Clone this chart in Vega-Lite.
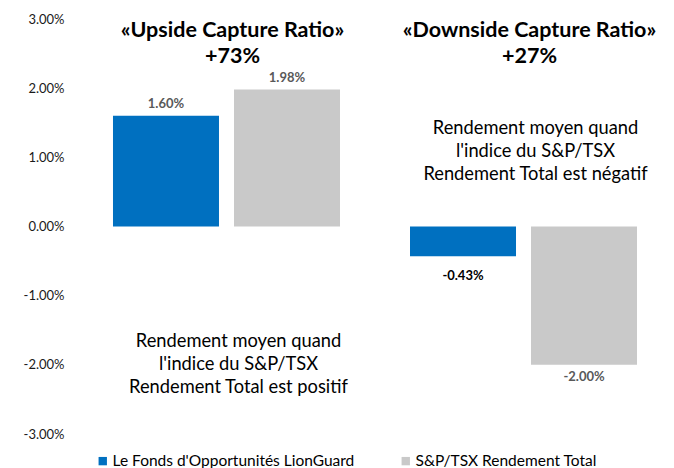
{
  "$schema": "https://vega.github.io/schema/vega-lite/v6.json",
  "width": 594,
  "height": 415,
  "autosize": {"type": "none"},
  "padding": {"left": 78, "top": 19, "right": 2, "bottom": 34},
  "config": {"font": "Lato", "view": {"stroke": null},
    "locale": {"number": {"decimal": ".", "thousands": ",", "grouping": [3], "currency": ["$", ""], "minus": "-"}}},
  "datasets": {
    "bars": [
      {"group": "Upside", "series": "Le Fonds d'Opportunités LionGuard", "value": 0.016},
      {"group": "Upside", "series": "S&P/TSX Rendement Total", "value": 0.0198},
      {"group": "Downside", "series": "Le Fonds d'Opportunités LionGuard", "value": -0.0043},
      {"group": "Downside", "series": "S&P/TSX Rendement Total", "value": -0.02}
    ],
    "titles": [
      {"group": "Upside", "text": "«Upside Capture Ratio»", "y": 0.02826},
      {"group": "Upside", "text": "+73%", "y": 0.02451},
      {"group": "Downside", "text": "«Downside Capture Ratio»", "y": 0.02826},
      {"group": "Downside", "text": "+27%", "y": 0.02451}
    ],
    "notes": [
      {"group": "Upside", "text": "Rendement moyen quand", "y": -0.0167},
      {"group": "Upside", "text": "l'indice du S&P/TSX", "y": -0.02002},
      {"group": "Upside", "text": "Rendement Total est positif", "y": -0.02335},
      {"group": "Downside", "text": "Rendement moyen quand", "y": 0.0141},
      {"group": "Downside", "text": "l'indice du S&P/TSX", "y": 0.01077},
      {"group": "Downside", "text": "Rendement Total est négatif", "y": 0.00745}
    ]
  },
  "layer": [
    {
      "data": {"name": "bars"},
      "mark": {"type": "bar"},
      "encoding": {
        "x": {"field": "group", "type": "nominal", "scale": {"domain": ["Upside", "Downside"], "paddingInner": 0.2357, "paddingOuter": 0.1178}, "axis": null},
        "xOffset": {"field": "series", "type": "nominal", "scale": {"domain": ["Le Fonds d'Opportunités LionGuard", "S&P/TSX Rendement Total"], "paddingInner": 0.124, "paddingOuter": 0}},
        "y": {"field": "value", "type": "quantitative", "scale": {"domain": [-0.03, 0.03], "nice": false, "zero": false},
          "axis": {"format": ".2%", "values": [-0.03, -0.02, -0.01, 0, 0.01, 0.02, 0.03], "domain": false, "ticks": false, "grid": false, "labelFontSize": 13, "labelColor": "#1a1a1a", "labelPadding": 14, "title": null}},
        "color": {"field": "series", "type": "nominal", "scale": {"domain": ["Le Fonds d'Opportunités LionGuard", "S&P/TSX Rendement Total"], "range": ["#0070C0", "#C9C9C9"]},
          "legend": {"title": null, "orient": "none", "legendX": 17, "legendY": 434, "direction": "horizontal", "symbolType": "square", "symbolSize": 70, "symbolStrokeWidth": 0, "labelFontSize": 15.5, "labelColor": "#000000", "labelLimit": 400, "columnPadding": 43, "labelOffset": 2}}
      }
    },
    {
      "data": {"name": "bars"},
      "transform": [{"filter": "datum.value > 0"}],
      "mark": {"type": "text", "baseline": "bottom", "dy": -5, "fontWeight": "bold", "fontSize": 13, "color": "#595959"},
      "encoding": {
        "x": {"field": "group", "type": "nominal"},
        "xOffset": {"field": "series", "type": "nominal"},
        "y": {"field": "value", "type": "quantitative"},
        "text": {"field": "value", "type": "quantitative", "format": ".2%"}
      }
    },
    {
      "data": {"name": "bars"},
      "transform": [{"filter": "datum.value < 0 && datum.value > -0.01"}],
      "mark": {"type": "text", "baseline": "top", "dy": 14, "fontWeight": "bold", "fontSize": 13, "color": "#000000"},
      "encoding": {
        "x": {"field": "group", "type": "nominal"},
        "xOffset": {"field": "series", "type": "nominal"},
        "y": {"field": "value", "type": "quantitative"},
        "text": {"field": "value", "type": "quantitative", "format": ".2%"}
      }
    },
    {
      "data": {"name": "bars"},
      "transform": [{"filter": "datum.value <= -0.01"}],
      "mark": {"type": "text", "baseline": "top", "dy": 6, "fontWeight": "bold", "fontSize": 13, "color": "#595959"},
      "encoding": {
        "x": {"field": "group", "type": "nominal"},
        "xOffset": {"field": "series", "type": "nominal"},
        "y": {"field": "value", "type": "quantitative"},
        "text": {"field": "value", "type": "quantitative", "format": ".2%"}
      }
    },
    {
      "data": {"name": "titles"},
      "mark": {"type": "text", "baseline": "middle", "dx": 6, "fontWeight": "bold", "fontSize": 21.5, "color": "#000000"},
      "encoding": {
        "x": {"field": "group", "type": "nominal"},
        "y": {"field": "y", "type": "quantitative"},
        "text": {"field": "text", "type": "nominal"}
      }
    },
    {
      "data": {"name": "notes"},
      "mark": {"type": "text", "baseline": "middle", "dx": 12, "fontSize": 18.3, "color": "#000000"},
      "encoding": {
        "x": {"field": "group", "type": "nominal"},
        "y": {"field": "y", "type": "quantitative"},
        "text": {"field": "text", "type": "nominal"}
      }
    }
  ]
}
